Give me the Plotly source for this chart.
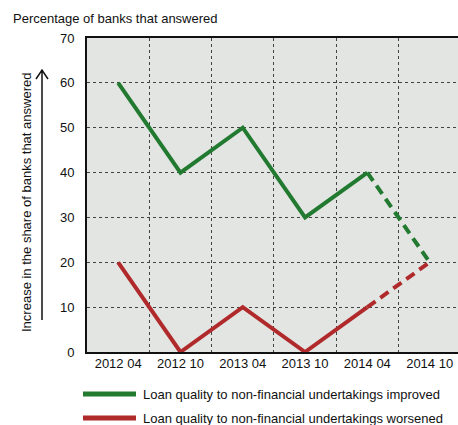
import plotly.graph_objects as go

# Survey periods and the share of banks answering each way
periods = ["2012 04", "2012 10", "2013 04", "2013 10", "2014 04", "2014 10"]
improved = [60, 40, 50, 30, 40, 20]
worsened = [20, 0, 10, 0, 10, 20]
# the last period is an expectation, drawn dashed
n_actual = 5

legend_labels = [
    "Loan quality to non-financial undertakings improved",
    "Loan quality to non-financial undertakings worsened",
]

GREEN = "#217a30"
RED = "#b02a2c"
FONT = "Liberation Sans, Arial, sans-serif"
FS = 13
INK = "#111111"

W, H = 458, 425
L, R, T, B = 87, 0, 38, 73
PW, PH = W - L - R, H - T - B


def px(x):
    return (x - L) / PW


def py(y):
    return 1 - (y - T) / PH


xs = list(range(len(periods)))
fig = go.Figure()

for vals, color in [(improved, GREEN), (worsened, RED)]:
    fig.add_trace(go.Scatter(
        x=xs[:n_actual], y=vals[:n_actual], mode="lines",
        line=dict(color=color, width=4), showlegend=False))
    fig.add_trace(go.Scatter(
        x=xs[n_actual - 1:], y=vals[n_actual - 1:], mode="lines",
        line=dict(color=color, width=4, dash="10px,6px"), showlegend=False))

fig.update_layout(
    width=W, height=H,
    margin=dict(l=L, r=R, t=T, b=B),
    paper_bgcolor="white",
    plot_bgcolor="#e3e5e2",
    font=dict(family=FONT, size=FS, color=INK),
    xaxis=dict(
        range=[-0.5, 5.455],
        tickmode="array", tickvals=xs, ticktext=periods,
        showgrid=False, zeroline=False,
        showline=True, linecolor=INK, linewidth=2, mirror=True,
        ticks="", fixedrange=True, ticklabeloverflow="allow",
        ticklabelstandoff=-2,
        minor=dict(tick0=0.5, dtick=1, showgrid=True, gridcolor="#444444",
                   gridwidth=1, griddash="3px,3px", ticks=""),
    ),
    yaxis=dict(
        range=[0, 70], dtick=10,
        showgrid=True, gridcolor="#444444", gridwidth=1, griddash="3px,3px",
        zeroline=False, showline=True, linecolor=INK, linewidth=2,
        ticks="", ticklabelstandoff=8, fixedrange=True,
    ),
)

# top-left unit label
fig.add_annotation(text="Percentage of banks that answered", xref="paper", yref="paper",
                   x=px(11), y=py(18), xanchor="left", yanchor="middle",
                   showarrow=False, font=dict(size=FS))

# rotated axis caption with an upward arrow next to it
fig.add_annotation(text="Increase in the share of banks that answered", xref="paper", yref="paper",
                   x=px(26), y=py(203), xanchor="center", yanchor="middle",
                   textangle=-90, showarrow=False, font=dict(size=FS))
ax_x, ay_top, ay_bot = px(42), py(70), py(320)
dx, dy = 6 / PW, 9 / PH
fig.add_shape(type="path", xref="paper", yref="paper",
              path=f"M {ax_x},{ay_bot} L {ax_x},{ay_top} "
                   f"M {ax_x - dx},{ay_top - dy} L {ax_x},{ay_top} L {ax_x + dx},{ay_top - dy}",
              line=dict(color=INK, width=1.5))

# legend below the chart
for i, (label, color) in enumerate(zip(legend_labels, [GREEN, RED])):
    yy = py(394 + 24 * i)
    fig.add_shape(type="line", xref="paper", yref="paper",
                  x0=px(83), x1=px(136), y0=yy, y1=yy,
                  line=dict(color=color, width=5))
    fig.add_annotation(text=label, xref="paper", yref="paper",
                       x=px(141), y=yy, xanchor="left", yanchor="middle",
                       showarrow=False, font=dict(size=FS))

fig.write_html("out.html")
